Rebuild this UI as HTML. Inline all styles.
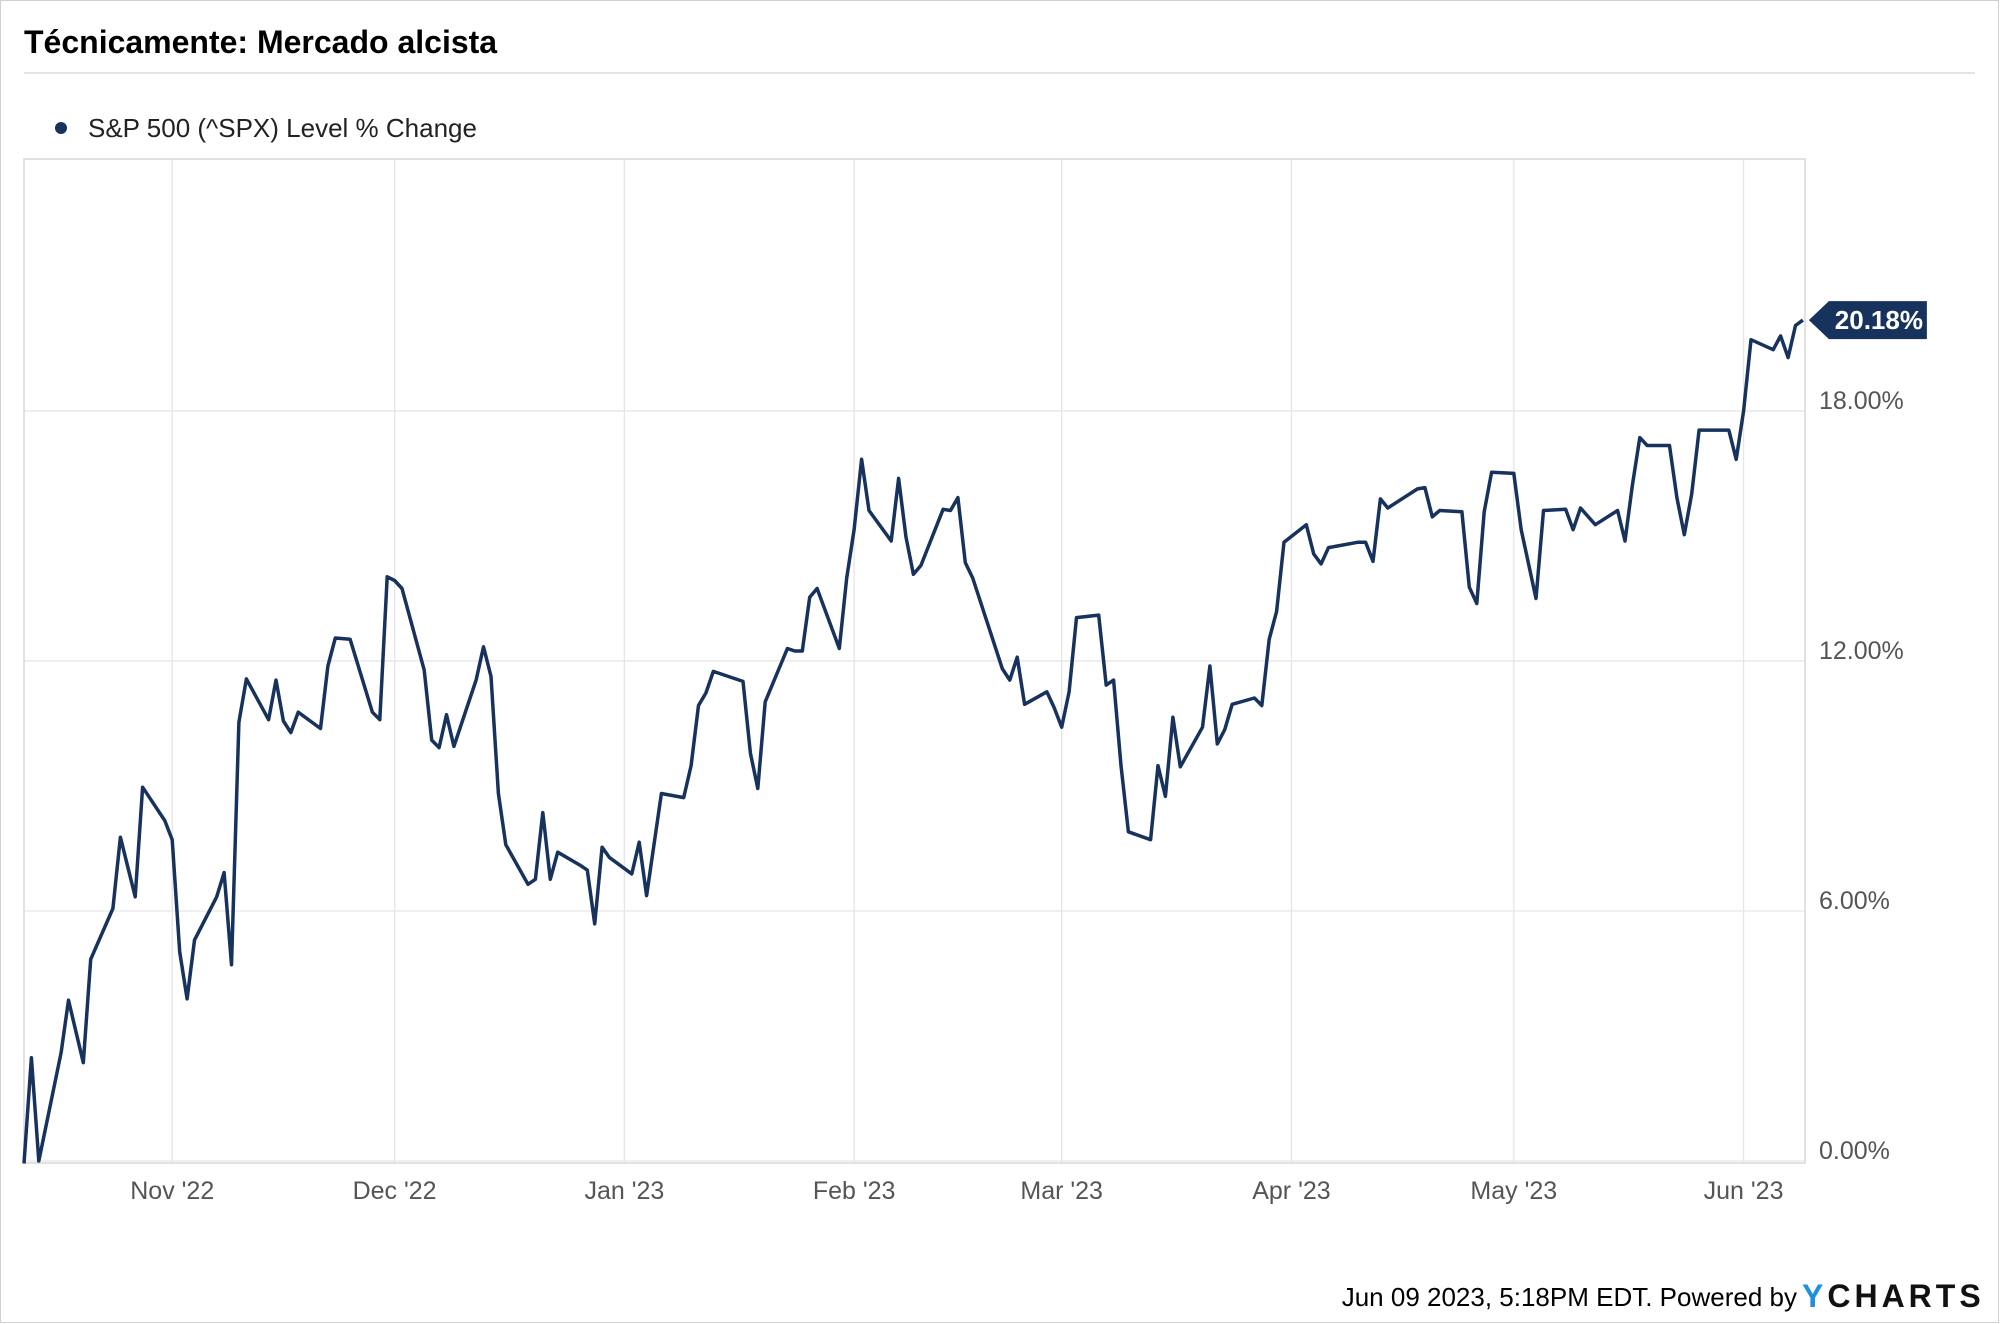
<!DOCTYPE html>
<html><head><meta charset="utf-8">
<style>
html,body{margin:0;padding:0;background:#fff;}
svg{display:block;}
text{font-family:"Liberation Sans Narrow","Liberation Sans",sans-serif;}
</style></head>
<body>
<svg id="chart" width="2000" height="1324" viewBox="0 0 2000 1324" xmlns="http://www.w3.org/2000/svg">
<rect x="0.5" y="0.5" width="1998" height="1322" fill="#fff" stroke="#d0d0d0"/>
<text x="24" y="53" font-size="32" font-weight="bold" fill="#000">Técnicamente: Mercado alcista</text>
<line x1="24" y1="73" x2="1975" y2="73" stroke="#dcdcdc" stroke-width="1.5"/>
<g>
<circle cx="61" cy="128" r="6" fill="#17325c"/>
<text x="88" y="137" font-size="26" fill="#222">S&amp;P 500 (^SPX) Level % Change</text>
</g>
<g id="grid"></g>
<rect x="24" y="159" width="1781" height="1004" fill="none" stroke="#d8d8d8" stroke-width="1.5"/>
<g id="xlabels"></g>
<g id="ylabels"></g>
<path id="series" fill="none" stroke="#17325c" stroke-width="3.5" stroke-linejoin="round"/>
<g id="lastlabel"></g>
<text x="1797" y="1306" font-size="26" fill="#000" text-anchor="end">Jun 09 2023, 5:18PM EDT. Powered by</text>
<text x="1802" y="1307" font-size="32" font-weight="bold" fill="#111" letter-spacing="4" font-family="Liberation Sans, sans-serif"><tspan fill="#1e90e0">Y</tspan>CHARTS</text>
</svg>
<script>
const dayOffsets = [0,1,2,5,6,8,9,12,13,15,16,19,20,21,22,23,26,27,28,29,30,33,34,35,36,37,40,41,42,44,47,48,49,50,51,54,55,56,57,58,61,62,63,64,65,68,69,70,71,72,75,76,77,78,79,82,83,84,86,89,90,91,92,93,97,98,99,100,103,104,105,106,107,110,111,112,113,114,117,118,119,120,121,124,125,126,127,128,132,133,134,135,138,139,140,141,142,145,146,147,148,149,152,153,154,155,156,159,160,161,162,163,166,167,168,169,170,173,174,175,176,180,181,182,183,184,188,189,190,191,194,195,196,197,198,201,202,204,205,208,209,210,212,215,216,217,218,219,222,223,224,225,226,230,231,232,233,236,237,238,239,240];
const pctChange = [-0.06,2.48,0,2.60,3.86,2.36,4.84,6.06,7.77,6.34,8.97,8.17,7.71,5.02,3.89,5.30,6.34,6.92,4.71,10.53,11.57,10.59,11.54,10.56,10.28,10.77,10.38,11.88,12.55,12.52,10.77,10.59,14.02,13.93,13.74,11.78,10.10,9.92,10.71,9.95,11.54,12.34,11.63,8.82,7.59,6.64,6.76,8.36,6.76,7.41,7.10,6.98,5.69,7.53,7.28,6.89,7.65,6.37,8.82,8.72,9.49,10.93,11.23,11.75,11.51,9.79,8.94,11.02,12.30,12.24,12.24,13.53,13.74,12.30,13.99,15.15,16.84,15.61,14.88,16.38,14.97,14.08,14.29,15.64,15.61,15.92,14.36,13.99,11.81,11.54,12.09,10.96,11.26,10.87,10.41,11.26,13.04,13.10,11.42,11.54,9.49,7.90,7.71,9.49,8.75,10.65,9.46,10.41,11.88,10.01,10.35,10.96,11.11,10.93,12.52,13.19,14.85,15.27,14.57,14.33,14.72,14.85,14.85,14.39,15.89,15.67,16.13,16.16,15.46,15.61,15.58,13.77,13.38,15.58,16.53,16.50,15.15,13.50,15.61,15.64,15.15,15.67,15.27,15.61,14.88,16.22,17.36,17.17,17.17,15.92,15.03,16.01,17.54,17.54,16.84,18.00,19.71,19.47,19.80,19.28,20.05,20.18];
const monthTickDays = [20,50,81,112,140,171,201,232];
const monthTickLabels = ["Nov '22","Dec '22","Jan '23","Feb '23","Mar '23","Apr '23","May '23","Jun '23"];
const yTickValues = [0,6,12,18];
const yTickLabels = ["0.00%","6.00%","12.00%","18.00%"];

const NS = "http://www.w3.org/2000/svg";
const X0 = 24, PX_PER_DAY = 7.412, Y0 = 1161, PX_PER_PCT = 41.67;
const xScale = d => X0 + d * PX_PER_DAY;
const yScale = v => Y0 - v * PX_PER_PCT;

const grid = document.getElementById('grid');
const xl = document.getElementById('xlabels');
const yl = document.getElementById('ylabels');
monthTickDays.forEach((d, i) => {
  const x = xScale(d);
  const ln = document.createElementNS(NS, 'line');
  ln.setAttribute('x1', x); ln.setAttribute('x2', x);
  ln.setAttribute('y1', 159); ln.setAttribute('y2', 1163);
  ln.setAttribute('stroke', '#e6e6e6'); ln.setAttribute('stroke-width', '1.3');
  
  
  grid.appendChild(ln);
  const t = document.createElementNS(NS, 'text');
  t.setAttribute('x', x); t.setAttribute('y', 1199);
  t.setAttribute('text-anchor', 'middle'); t.setAttribute('font-size', '25'); t.setAttribute('fill', '#555');
  t.textContent = monthTickLabels[i];
  
  
  xl.appendChild(t);
});
yTickValues.forEach((v, i) => {
  const y = yScale(v);
  const ln = document.createElementNS(NS, 'line');
  ln.setAttribute('x1', 24); ln.setAttribute('x2', 1805);
  ln.setAttribute('y1', y); ln.setAttribute('y2', y);
  ln.setAttribute('stroke', '#e6e6e6'); ln.setAttribute('stroke-width', '1.3');
  
  
  grid.appendChild(ln);
  const t = document.createElementNS(NS, 'text');
  t.setAttribute('x', 1819); t.setAttribute('y', y - 2);
  t.setAttribute('font-size', '25'); t.setAttribute('fill', '#555');
  t.textContent = yTickLabels[i];
  
  
  yl.appendChild(t);
});

let d = '';
dayOffsets.forEach((day, i) => {
  d += (i ? 'L' : 'M') + xScale(day).toFixed(1) + ' ' + yScale(pctChange[i]).toFixed(1);
});
document.getElementById('series').setAttribute('d', d);

const last = pctChange[pctChange.length - 1];
const ly = yScale(last);
const lx = xScale(dayOffsets[dayOffsets.length - 1]) + 6;
const lg = document.getElementById('lastlabel');
const poly = document.createElementNS(NS, 'polygon');
poly.setAttribute('points', `${lx},${ly} ${lx+20},${ly-19} ${lx+118},${ly-19} ${lx+118},${ly+19} ${lx+20},${ly+19}`);
poly.setAttribute('fill', '#17325c');


lg.appendChild(poly);
const lt = document.createElementNS(NS, 'text');
lt.setAttribute('x', lx + 70); lt.setAttribute('y', ly + 9);
lt.setAttribute('text-anchor', 'middle'); lt.setAttribute('font-size', '26');
lt.setAttribute('font-weight', 'bold'); lt.setAttribute('fill', '#fff');
lt.textContent = last.toFixed(2) + '%';


lg.appendChild(lt);
</script>
</body></html>
